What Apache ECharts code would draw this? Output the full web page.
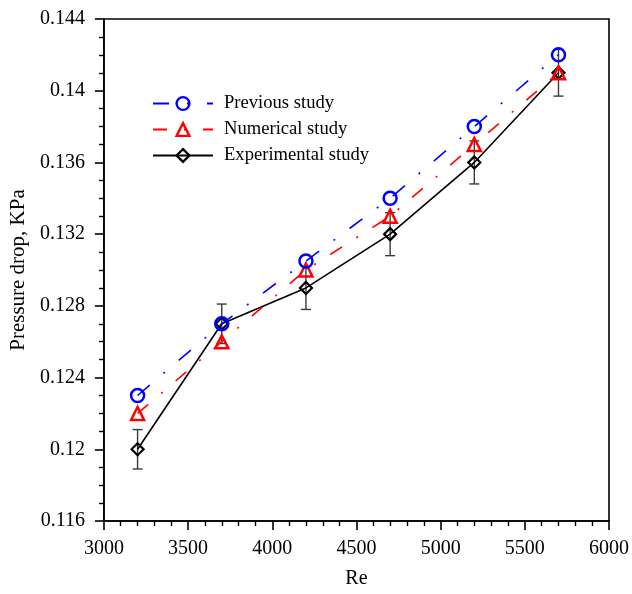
<!DOCTYPE html>
<html>
<head>
<meta charset="utf-8">
<script src="https://cdn.jsdelivr.net/npm/echarts@6/dist/echarts.min.js"></script>
<style>
  html, body { margin: 0; padding: 0; background: #fff; }
  #chart { width: 632px; height: 594px; }
</style>
</head>
<body>
<div id="chart"></div>
<script>
// Reynolds numbers of the test cases
const reynolds = [3200, 3700, 4200, 4700, 5200, 5700];
// Pressure drop (KPa) for each data set
const previousStudy = [0.123, 0.127, 0.1305, 0.134, 0.138, 0.142];
const numericalStudy = [0.122, 0.126, 0.130, 0.133, 0.137, 0.141];
const experimentalStudy = [0.120, 0.127, 0.129, 0.132, 0.136, 0.141];
// Measurement uncertainty of the experiment (± KPa)
const experimentalError = [0.0011, 0.0011, 0.0012, 0.0012, 0.0012, 0.0013];

const FONT = '"Liberation Serif", "Times New Roman", serif';
const INK = '#000';

const pairs = (ys) => reynolds.map((x, i) => [x, ys[i]]);
const errorData = reynolds.map((x, i) => [x, experimentalStudy[i] - experimentalError[i], experimentalStudy[i] + experimentalError[i]]);

const chart = echarts.init(document.getElementById('chart'), null, { renderer: 'canvas' });

chart.setOption({
  animation: false,
  backgroundColor: '#ffffff',
  grid: { left: 102, right: 22, top: 19, bottom: 67, show: true, borderColor: INK, borderWidth: 1.6, backgroundColor: 'transparent' },
  legend: {
    orient: 'vertical',
    left: 147,
    top: 89,
    padding: 5,
    itemWidth: 60,
    itemHeight: 16,
    itemGap: 7,
    data: ['Previous study', 'Numerical study', 'Experimental study'],
    itemStyle: { borderWidth: 2.4 },
    textStyle: { fontFamily: FONT, fontSize: 18.6, color: INK, padding: [0, 0, 0, 6] }
  },
  xAxis: {
    type: 'value',
    min: 3000, max: 6000, interval: 500,
    name: 'Re', nameLocation: 'middle', nameGap: 48,
    nameTextStyle: { fontFamily: FONT, fontSize: 20, color: INK },
    axisLine: { lineStyle: { color: INK, width: 1.6 } },
    axisTick: { inside: false, length: 9, lineStyle: { color: INK, width: 1.6 } },
    minorTick: { show: true, splitNumber: 5, length: 5, lineStyle: { color: INK, width: 1.4 } },
    axisLabel: { fontFamily: FONT, fontSize: 20, color: INK, margin: 18,
      formatter: (v) => String(Math.round(v)) },
    splitLine: { show: false }
  },
  yAxis: {
    type: 'value',
    min: 0.116, max: 0.144, interval: 0.004,
    name: 'Pressure drop, KPa', nameLocation: 'middle', nameGap: 71,
    nameTextStyle: { fontFamily: FONT, fontSize: 21, color: INK },
    axisLine: { lineStyle: { color: INK, width: 1.6 } },
    axisTick: { inside: false, length: 9, lineStyle: { color: INK, width: 1.6 } },
    minorTick: { show: true, splitNumber: 4, length: 5, lineStyle: { color: INK, width: 1.4 } },
    axisLabel: { fontFamily: FONT, fontSize: 20, color: INK, margin: 19,
      formatter: (v) => String(parseFloat(v.toFixed(3))) },
    splitLine: { show: false }
  },
  series: [
    {
      name: 'Experimental error',
      type: 'custom',
      z: 1,
      data: errorData,
      renderItem: (params, api) => {
        const x = api.value(0);
        const lo = api.coord([x, api.value(1)]);
        const hi = api.coord([x, api.value(2)]);
        const cap = 5;
        const style = { stroke: '#3a3a3a', lineWidth: 1.4 };
        return {
          type: 'group',
          children: [
            { type: 'line', shape: { x1: lo[0], y1: lo[1], x2: hi[0], y2: hi[1] }, style },
            { type: 'line', shape: { x1: lo[0] - cap, y1: lo[1], x2: lo[0] + cap, y2: lo[1] }, style },
            { type: 'line', shape: { x1: hi[0] - cap, y1: hi[1], x2: hi[0] + cap, y2: hi[1] }, style }
          ]
        };
      }
    },
    {
      name: 'Experimental study',
      type: 'line',
      z: 2,
      data: pairs(experimentalStudy),
      symbol: 'diamond',
      symbolSize: 12,
      lineStyle: { color: INK, width: 1.6, type: 'solid' },
      itemStyle: { color: 'rgba(255,255,255,0)', borderColor: INK, borderWidth: 2.2 }
    },
    {
      name: 'Numerical study',
      type: 'line',
      z: 3,
      data: pairs(numericalStudy),
      symbol: 'triangle',
      symbolSize: 13,
      lineStyle: { color: '#ff0000', width: 1.6, type: [14, 17, 2, 17] },
      itemStyle: { color: 'rgba(255,255,255,0)', borderColor: '#ff0000', borderWidth: 2.5 }
    },
    {
      name: 'Previous study',
      type: 'line',
      z: 4,
      data: pairs(previousStudy),
      symbol: 'circle',
      symbolSize: 13,
      lineStyle: { color: '#0000ff', width: 1.6, type: [16, 18, 2, 18] },
      itemStyle: { color: 'rgba(255,255,255,0)', borderColor: '#0000ff', borderWidth: 2.5 }
    }
  ]
});
</script>
</body>
</html>
